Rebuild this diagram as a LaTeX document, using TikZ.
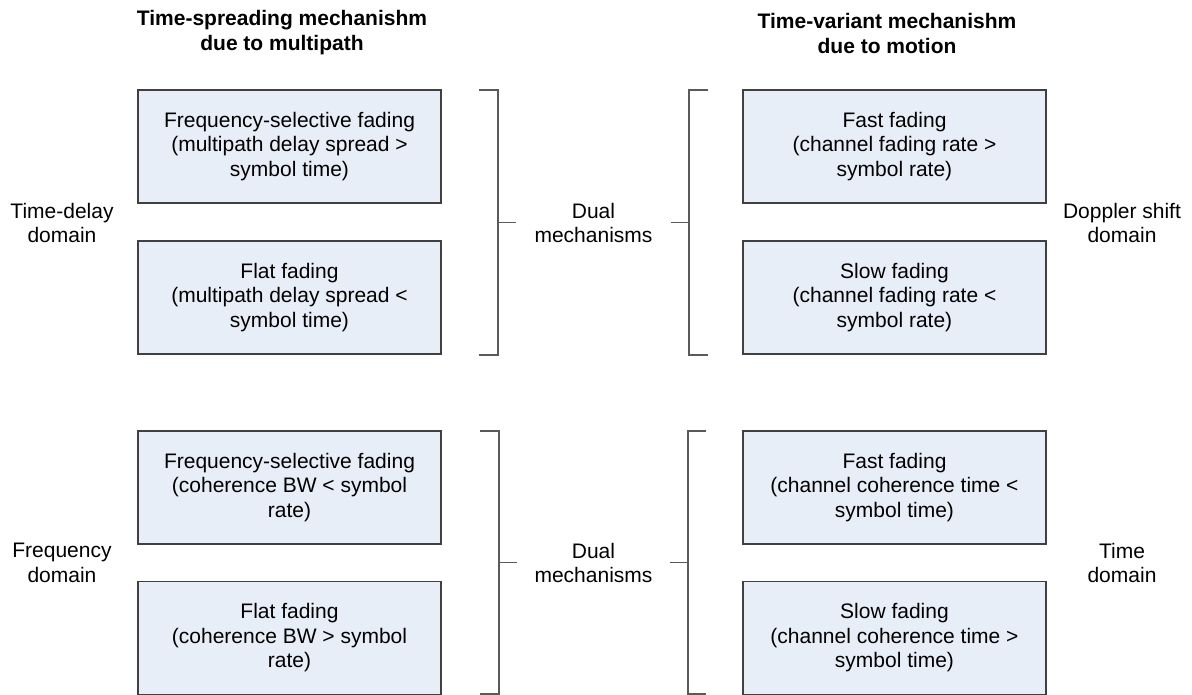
\documentclass[tikz,border=0pt]{standalone}
\usepackage{fontspec}
\setmainfont{Liberation Sans}
\definecolor{boxfill}{HTML}{E8EEF7}
\definecolor{boxline}{HTML}{404040}
\definecolor{brkline}{HTML}{5A5A5A}
\begin{document}
\begin{tikzpicture}[x=1pt,y=-1pt,
  fadebox/.style={draw=boxline, fill=boxfill, line width=1.2pt,
    minimum width=303pt, minimum height=113pt, inner sep=0pt,
    align=center, font=\fontsize{21}{24.5}\selectfont},
  lbl/.style={align=center, inner sep=0pt, font=\fontsize{21}{24.5}\selectfont},
  head/.style={align=center, inner sep=0pt, font=\fontsize{21}{25}\selectfont\bfseries},
  brk/.style={draw=brkline, line width=1.3pt}]
\useasboundingbox (0,0) rectangle (1192,695);

% column headings
\node[head] (hl) at (282,33) {Time-spreading mechanishm\\due to multipath};
\node[head] (hr) at (887,33) {Time-variant mechanishm\\due to motion};

% fading boxes, left column
\node[fadebox] (l1) at (289.5,146.5) {Frequency-selective fading\\(multipath delay spread >\\symbol time)};
\node[fadebox] (l2) at (289.5,297.5) {Flat fading\\(multipath delay spread <\\symbol time)};
\node[fadebox] (l3) at (289.5,487.5) {Frequency-selective fading\\(coherence BW < symbol\\rate)};
\node[fadebox] (l4) at (289.5,638) {Flat fading\\(coherence BW > symbol\\rate)};

% fading boxes, right column
\node[fadebox] (r1) at (894.5,146.5) {Fast fading\\(channel fading rate >\\symbol rate)};
\node[fadebox] (r2) at (894.5,297.5) {Slow fading\\(channel fading rate <\\symbol rate)};
\node[fadebox] (r3) at (894.5,487.5) {Fast fading\\(channel coherence time <\\symbol time)};
\node[fadebox] (r4) at (894.5,638) {Slow fading\\(channel coherence time >\\symbol time)};

% domain labels
\node[lbl] (dl1) at (62,223) {Time-delay\\domain};
\node[lbl] (dr1) at (1122,223) {Doppler shift\\domain};
\node[lbl] (dl2) at (62,563) {Frequency\\domain};
\node[lbl] (dr2) at (1122,563) {Time\\domain};

% centre labels
\node[lbl] (m1) at (593.5,223) {Dual\\mechanisms};
\node[lbl] (m2) at (593.5,563) {Dual\\mechanisms};

% bracket corner points
\coordinate (a1) at (479,90);  \coordinate (a2) at (498,90);
\coordinate (a3) at (498,355); \coordinate (a4) at (479,355);
\coordinate (at) at (498,222.5); \coordinate (ae) at (516,222.5);
\coordinate (b1) at (708,90);  \coordinate (b2) at (689,90);
\coordinate (b3) at (689,355); \coordinate (b4) at (708,355);
\coordinate (bt) at (689,222.5); \coordinate (be) at (671,222.5);
\coordinate (c1) at (480,431); \coordinate (c2) at (499,431);
\coordinate (c3) at (499,694); \coordinate (c4) at (480,694);
\coordinate (ct) at (499,562.5); \coordinate (ce) at (517,562.5);
\coordinate (d1) at (706,431); \coordinate (d2) at (688,431);
\coordinate (d3) at (688,694); \coordinate (d4) at (706,694);
\coordinate (dt) at (688,562.5); \coordinate (de) at (670,562.5);

% brackets with their ticks
\draw[brk] (a1) -- (a2) -- (a3) -- (a4);
\draw[brk] (at) -- (ae);
\draw[brk] (b1) -- (b2) -- (b3) -- (b4);
\draw[brk] (bt) -- (be);
\draw[brk] (c1) -- (c2) -- (c3) -- (c4);
\draw[brk] (ct) -- (ce);
\draw[brk] (d1) -- (d2) -- (d3) -- (d4);
\draw[brk] (dt) -- (de);
\end{tikzpicture}
\end{document}
